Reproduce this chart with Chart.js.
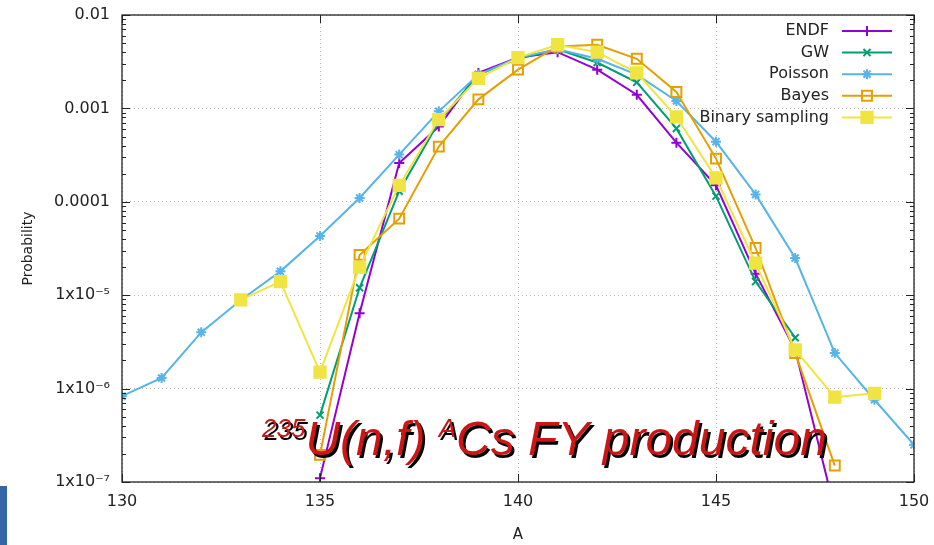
<!DOCTYPE html>
<html>
<head>
<meta charset="utf-8">
<script src="https://cdn.jsdelivr.net/npm/chart.js@4.4.1/dist/chart.umd.min.js"></script>
<style>
  body { margin:0; background:#fff; }
  #wrap { position:relative; width:934px; height:545px; overflow:hidden; }
  #side-bar { position:absolute; left:0; top:486px; width:7px; height:59px; background:#3567a6; }
</style>
</head>
<body>
<div id="wrap">
  <canvas id="fy-chart" width="934" height="545"></canvas>
  <div id="side-bar"></div>
</div>
<script>
// ── Data ─────────────────────────────────────────────────
const massA = [130,131,132,133,134,135,136,137,138,139,140,141,142,143,144,145,146,147,148,149,150];

const endfY    = [null,null,null,null,null,1.1e-7,6.4e-6,2.6e-4,6.4e-4,2.4e-3,3.5e-3,4.0e-3,2.6e-3,1.4e-3,4.3e-4,1.5e-4,1.7e-5,2.6e-6,5e-8,null,null];
const gwY      = [null,null,null,null,null,5.2e-7,1.2e-5,1.3e-4,7.2e-4,2.3e-3,3.4e-3,4.3e-3,3.1e-3,1.9e-3,6.1e-4,1.15e-4,1.4e-5,3.5e-6,null,null,null];
const poissonY = [8.3e-7,1.3e-6,4.0e-6,8.9e-6,1.8e-5,4.3e-5,1.1e-4,3.2e-4,9.3e-4,2.3e-3,3.5e-3,4.3e-3,3.4e-3,2.3e-3,1.2e-3,4.4e-4,1.2e-4,2.5e-5,2.4e-6,7.6e-7,2.5e-7];
const bayesY   = [null,null,null,null,null,1.95e-7,2.7e-5,6.6e-5,3.9e-4,1.25e-3,2.6e-3,4.6e-3,4.8e-3,3.4e-3,1.5e-3,2.9e-4,3.2e-5,2.4e-6,1.5e-7,null,null];
const binaryY  = [null,null,null,8.9e-6,1.4e-5,1.5e-6,2.0e-5,1.5e-4,7.6e-4,2.1e-3,3.5e-3,4.8e-3,4.0e-3,2.4e-3,8.1e-4,1.8e-4,2.2e-5,2.6e-6,8.1e-7,8.9e-7,null];

const yTickValues = [1e-7,1e-6,1e-5,1e-4,1e-3,1e-2];
const yTickLabels = ['1x10⁻⁷','1x10⁻⁶','1x10⁻⁵','0.0001','0.001','0.01'];
const xTickStep = 5;

const FONT = 'DejaVu Sans';

const toPts = arr => massA.map((a, i) => ({ x: a, y: arr[i] }));

// name, values, colour, point style, radius, filled
const seriesDefs = [
  { label:'ENDF',            data: endfY,    color:'#9400d3', style:'cross',    r:5, fill:true  },
  { label:'GW',              data: gwY,      color:'#009e73', style:'crossRot', r:5, fill:true  },
  { label:'Poisson',         data: poissonY, color:'#56b4e9', style:'star',     r:5, fill:true  },
  { label:'Bayes',           data: bayesY,   color:'#e69f00', style:'rect',     r:7, fill:false },
  { label:'Binary sampling', data: binaryY,  color:'#f0e442', style:'rect',     r:8, fill:true  },
];

// ── Gnuplot-ish frame with inward ticks ──────────────────
const framePlugin = {
  id: 'frame',
  afterDatasetsDraw(chart) {
    const { ctx, chartArea: a, scales: { x, y } } = chart;
    ctx.save();
    ctx.strokeStyle = '#222';
    ctx.lineWidth = 1.3;
    ctx.strokeRect(a.left, a.top, a.right - a.left, a.bottom - a.top);
    ctx.lineWidth = 1;
    ctx.beginPath();
    for (let v = x.min; v <= x.max; v += xTickStep) {
      const px = Math.round(x.getPixelForValue(v)) + 0.5;
      ctx.moveTo(px, a.bottom); ctx.lineTo(px, a.bottom - 8);
      ctx.moveTo(px, a.top);    ctx.lineTo(px, a.top + 8);
    }
    for (let e = -7; e <= -2; e++) {
      for (let m = 1; m <= 9; m++) {
        const v = m * Math.pow(10, e);
        if (v > y.max * 1.0001) break;
        const py = Math.round(y.getPixelForValue(v)) + 0.5;
        const len = m === 1 ? 8 : 4;
        ctx.moveTo(a.left, py);  ctx.lineTo(a.left + len, py);
        ctx.moveTo(a.right, py); ctx.lineTo(a.right - len, py);
      }
    }
    ctx.stroke();
    ctx.restore();
  }
};

// ── Legend at top right, gnuplot style ───────────────────
const legendPlugin = {
  id: 'gpLegend',
  afterDraw(chart) {
    const { ctx } = chart;
    ctx.save();
    ctx.font = `16px "${FONT}"`;
    ctx.textAlign = 'right';
    ctx.textBaseline = 'middle';
    chart.data.datasets.forEach((ds, i) => {
      const yy = 31 + i * 21.6;
      ctx.fillStyle = '#222';
      ctx.fillText(ds.label, 829, yy);
      ctx.strokeStyle = ds.borderColor;
      ctx.lineWidth = 2;
      ctx.beginPath(); ctx.moveTo(842, yy); ctx.lineTo(892, yy); ctx.stroke();
      ctx.fillStyle = ds.pointBackgroundColor;
      ctx.lineWidth = ds.pointBorderWidth;
      Chart.helpers.drawPoint(ctx, { pointStyle: ds.pointStyle, radius: ds.pointRadius, borderWidth: ds.pointBorderWidth, rotation: 0 }, 867, yy);
    });
    ctx.restore();
  }
};

// ── Red italic annotation with black shadow ─────────────
const notePlugin = {
  id: 'note',
  afterDraw(chart) {
    const { ctx } = chart;
    const parts = [
      { t:'235', size:26, dy:-18 },
      { t:'U(n,f) ', size:48, dy:0 },
      { t:'A', size:26, dy:-18 },
      { t:'Cs FY production', size:48, dy:0 },
    ];
    const draw = (ox, oy, col) => {
      let xx = 262;
      ctx.fillStyle = col;
      parts.forEach(p => {
        ctx.font = `italic ${p.size}px "Liberation Sans"`;
        ctx.fillText(p.t, xx + ox, 455 + p.dy + oy);
        xx += ctx.measureText(p.t).width;
      });
    };
    ctx.save();
    ctx.textAlign = 'left';
    ctx.textBaseline = 'alphabetic';
    draw(2.5, 2.5, '#000');
    draw(0, 0, '#cc1616');
    ctx.restore();
  }
};

const datasets = seriesDefs.map((s, i) => ({
  label: s.label,
  data: toPts(s.data),
  borderColor: s.color,
  backgroundColor: s.color,
  borderWidth: 2,
  pointStyle: s.style,
  pointRadius: s.r,
  pointBorderWidth: 2,
  pointBorderColor: s.color,
  pointBackgroundColor: s.fill ? s.color : 'rgba(255,255,255,0)',
  tension: 0,
  spanGaps: false,
  order: seriesDefs.length - i,
}));

new Chart(document.getElementById('fy-chart'), {
  type: 'line',
  data: { datasets },
  options: {
    responsive: false,
    devicePixelRatio: 1,
    animation: false,
    layout: { padding: { top: 15, right: 20, left: 0, bottom: 0 } },
    plugins: { legend: { display: false }, tooltip: { enabled: false } },
    scales: {
      x: {
        type: 'linear', min: 130, max: 150,
        ticks: { stepSize: xTickStep, color: '#222', font: { family: FONT, size: 16 }, padding: 10, maxRotation: 0 },
        grid: { color: '#b8b8b8', lineWidth: 1, drawTicks: false },
        border: { display: false, dash: [1, 3] },
        title: { display: true, text: 'A', color: '#222', font: { family: FONT, size: 15 }, padding: 1 },
        afterFit: s => { s.height = 63; s.paddingLeft = 0; s.paddingRight = 0; },
      },
      y: {
        type: 'logarithmic', min: 1e-7, max: 1e-2,
        afterBuildTicks: s => { s.ticks = yTickValues.map(v => ({ value: v, major: true })); },
        ticks: {
          color: '#222', font: { family: FONT, size: 16 }, padding: 12,
          callback: v => { const i = yTickValues.findIndex(t => Math.abs(t - v) / t < 1e-6); return i >= 0 ? yTickLabels[i] : ''; }
        },
        grid: { color: '#b8b8b8', lineWidth: 1, drawTicks: false },
        border: { display: false, dash: [1, 3] },
        title: { display: true, text: 'Probability', color: '#222', font: { family: FONT, size: 14 }, padding: 20 },
        afterFit: s => { s.width = 122; s.paddingTop = 0; s.paddingBottom = 0; },
      }
    }
  },
  plugins: [framePlugin, legendPlugin, notePlugin]
});
</script>
</body>
</html>
